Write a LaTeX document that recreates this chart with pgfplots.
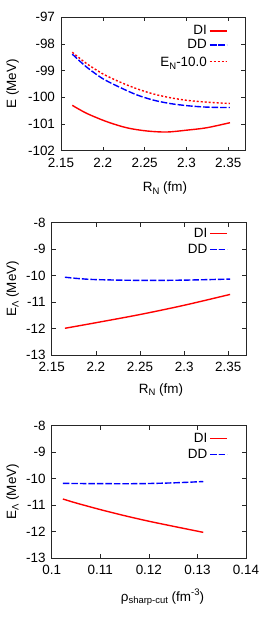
\documentclass[border=0pt]{standalone}
\usepackage{fontspec}
\setmainfont{Liberation Sans}
\usepackage{pgfplots}
\pgfplotsset{compat=1.18}
\newcommand{\lsub}[1]{\raisebox{-0.35ex}{\fontsize{9.5}{10}\selectfont #1}}
\newcommand{\lsup}[1]{\raisebox{0.8ex}{\fontsize{9.5}{10}\selectfont #1}}
\newcommand{\gap}{\hspace{5bp}}
\pgfplotsset{
  gp/.style={
    scale only axis,
    anchor=south west,
    /pgf/number format/assume math mode=true,
    tick align=inside,
    major tick length=4bp,
    axis line style={line width=0.8bp, black!85},
    every tick/.style={black!85, line width=0.6bp},
    xticklabel style={yshift=-4bp},
    yticklabel style={xshift=-2.5bp},
    legend plot pos=right,
    legend cell align=right,
    legend style={draw=none, fill=none, at={(1,1)}, anchor=north east,
      xshift=-15bp, yshift=-4bp, row sep=1bp, font=\fontsize{13.5}{16}\selectfont},
  },
  di/.style={red, line width=1.4bp, smooth},
  dd/.style={blue, line width=1.4bp, smooth, dash pattern=on 6.5bp off 2bp},
  en/.style={red, line width=1.4bp, smooth, dash pattern=on 2bp off 2bp},
}
\begin{document}
\begin{tikzpicture}[font=\fontsize{13.5}{16}\selectfont]
\path[use as bounding box] (0,0) rectangle (273bp,-623bp);
% Panel 1
\begin{axis}[gp, at={(61bp,-150.7bp)}, width=184bp, height=133.4bp,
  xmin=2.15, xmax=2.37, ymin=-102, ymax=-97,
  xtick={2.15,2.2,2.25,2.3,2.35}, xticklabels={2.15,2.2,2.25,2.3,2.35},
  ytick={-102,-101,-100,-99,-98,-97},
  xlabel={R\lsub{N} (fm)}, ylabel={E (MeV)},
  xlabel style={at={(axis description cs:0.565,0)}, anchor=base, yshift=-41bp},
  ylabel style={at={(axis description cs:-0.2625,0.5)}, anchor=center},
  legend style={row sep=-0.5bp, yshift=0bp, xshift=0.5bp},
]
\addplot[di] coordinates {(2.1635,-100.30) (2.1807,-100.60) (2.2046,-100.91) (2.2285,-101.14) (2.2524,-101.26) (2.2763,-101.30) (2.3003,-101.23) (2.3242,-101.14) (2.3521,-100.95)};
\addlegendentry{DI\gap}
\addplot[dd] coordinates {(2.1635,-98.38) (2.18,-98.85) (2.2,-99.30) (2.22,-99.62) (2.24,-99.90) (2.26,-100.10) (2.28,-100.23) (2.30,-100.31) (2.32,-100.36) (2.34,-100.38) (2.352,-100.38)};
\addlegendentry{DD\gap}
\addplot[en] coordinates {(2.1635,-98.31) (2.18,-98.72) (2.2,-99.12) (2.22,-99.42) (2.24,-99.67) (2.26,-99.87) (2.28,-100.01) (2.30,-100.11) (2.32,-100.17) (2.34,-100.21) (2.352,-100.23)};
\addlegendentry{\rule{0pt}{13bp}E\lsub{N}-10.0\gap}
\end{axis}
% Panel 2
\begin{axis}[gp, at={(51.7bp,-355bp)}, width=194.3bp, height=132.3bp,
  xmin=2.15, xmax=2.37, ymin=-13, ymax=-8,
  xtick={2.15,2.2,2.25,2.3,2.35}, xticklabels={2.15,2.2,2.25,2.3,2.35},
  ytick={-13,-12,-11,-10,-9,-8},
  xlabel={R\lsub{N} (fm)}, ylabel={E\lsub{Λ} (MeV)},
  xlabel style={at={(axis description cs:0.5625,0)}, anchor=base, yshift=-38bp},
  ylabel style={at={(axis description cs:-0.2007,0.5)}, anchor=center},
  legend style={yshift=2.5bp},
]
\addplot[di] coordinates {(2.165,-11.99) (2.2,-11.78) (2.25,-11.47) (2.3,-11.12) (2.352,-10.71)};
\addlegendentry{DI\gap}
\addplot[dd] coordinates {(2.165,-10.06) (2.18,-10.11) (2.2,-10.15) (2.25,-10.18) (2.3,-10.17) (2.352,-10.13)};
\addlegendentry{DD\gap}
\end{axis}
% Panel 3
\begin{axis}[gp, at={(51.7bp,-558bp)}, width=194.3bp, height=132.3bp,
  xmin=0.1, xmax=0.14, ymin=-13, ymax=-8,
  xtick={0.1,0.11,0.12,0.13,0.14}, xticklabels={0.1,0.11,0.12,0.13,0.14},
  ytick={-13,-12,-11,-10,-9,-8},
  xlabel={ρ\lsub{sharp-cut} (fm\lsup{-3})}, ylabel={E\lsub{Λ} (MeV)},
  xlabel style={at={(axis description cs:0.57,0)}, anchor=base, yshift=-43bp},
  ylabel style={at={(axis description cs:-0.2007,0.5)}, anchor=center},
  legend style={yshift=0.5bp},
]
\addplot[di] coordinates {(0.1023,-10.77) (0.105,-10.92) (0.11,-11.17) (0.115,-11.40) (0.12,-11.61) (0.125,-11.80) (0.1312,-12.03)};
\addlegendentry{DI\gap}
\addplot[dd] coordinates {(0.1023,-10.18) (0.11,-10.19) (0.118,-10.19) (0.125,-10.16) (0.1312,-10.11)};
\addlegendentry{DD\gap}
\end{axis}
\end{tikzpicture}
\end{document}
